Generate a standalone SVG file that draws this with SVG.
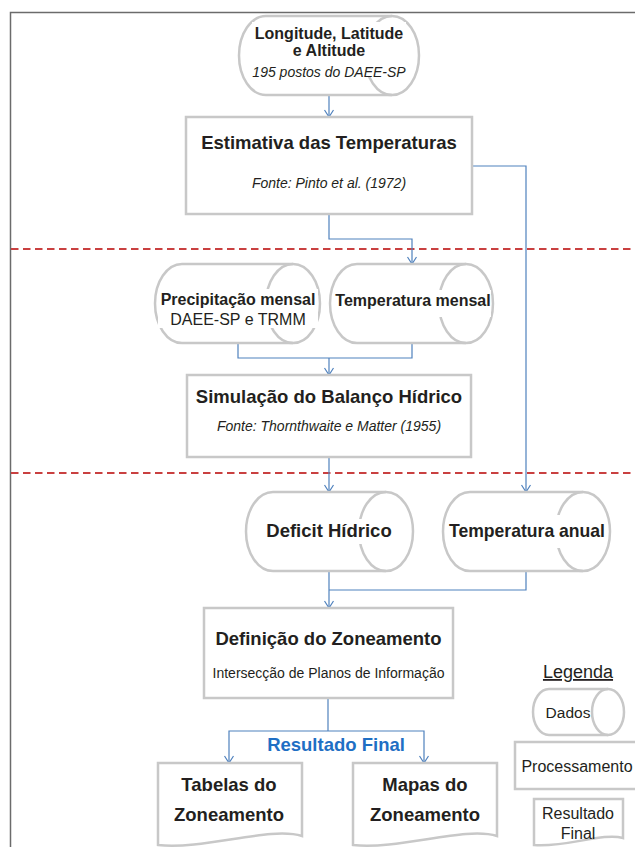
<svg xmlns="http://www.w3.org/2000/svg" width="635" height="847" viewBox="0 0 635 847">
<style>
  text { font-family: "Liberation Sans", Arial, sans-serif; fill: #231f20; text-anchor: middle; }
  .b185 { font-size: 18.5px; font-weight: bold; }
  .b16 { font-size: 16px; font-weight: bold; }
  .r16 { font-size: 16px; }
  .r15 { font-size: 15.5px; }
  .i14 { font-size: 14px; font-style: italic; }
  .r14 { font-size: 14px; }
  .blue { fill: #1f6fc4; }
  .shape { fill: #ffffff; stroke: #c8c8c8; stroke-width: 2.5; }
  .inner { fill: none; stroke: #c8c8c8; stroke-width: 2.5; }
  .tbg { fill: #ffffff; stroke: none; }
  .con { fill: none; stroke: #4f81bd; stroke-width: 1.2; }
  .sep { fill: none; stroke: #c94040; stroke-width: 1.8; stroke-dasharray: 7.5 4.5; }
  .frame { fill: none; stroke: #6b6b6b; stroke-width: 1.5; }
</style>
<defs>
  <marker id="ah" viewBox="-8 -5 9 10" refX="0" refY="0" markerWidth="9" markerHeight="10" markerUnits="userSpaceOnUse" orient="auto">
    <path d="M-7,-4.5 L0,0 L-7,4.5" fill="none" stroke="#4f81bd" stroke-width="1.2"/>
  </marker>
</defs>
<rect x="0" y="0" width="635" height="847" fill="#ffffff"/>
<path class="frame" d="M10.5,847 V12.5 H635"/>
<g id="separators">
  <line class="sep" x1="11" y1="249" x2="635" y2="249"/>
  <line class="sep" x1="11" y1="473" x2="635" y2="473"/>
</g>
<g id="connectors">
  <path class="con" d="M329,95 V117" marker-end="url(#ah)"/>
  <path class="con" d="M472,166 H526 V492" marker-end="url(#ah)"/>
  <path class="con" d="M329,214 V239 H412 V264" marker-end="url(#ah)"/>
  <path class="con" d="M238,343 V358 H412 V343"/>
  <path class="con" d="M329,358 V375" marker-end="url(#ah)"/>
  <path class="con" d="M329,457 V492" marker-end="url(#ah)"/>
  <path class="con" d="M526,571 V590 H329"/>
  <path class="con" d="M329,571 V608" marker-end="url(#ah)"/>
  <path class="con" d="M328,698 V731"/>
  <path class="con" d="M328,731 H229 V763" marker-end="url(#ah)"/>
  <path class="con" d="M328,731 H424 V763" marker-end="url(#ah)"/>
</g>
<g id="n-coordenadas">
  <path class="shape" d="M266,16 H392 A27 39.5 0 0 1 392,95 H266 A27 39.5 0 0 1 266,16 Z"/>
  <path class="inner" d="M392,16 A27 39.5 0 0 0 392,95"/>
  <rect class="tbg" x="252" y="22" width="154" height="54"/>
  <text class="b16" x="329" y="39">Longitude, Latitude</text>
  <text class="b16" x="329" y="56">e Altitude</text>
  <text class="i14" x="329" y="77">195 postos do DAEE-SP</text>
</g>
<g id="n-estimativa">
  <rect class="shape" x="186" y="117" width="286" height="97"/>
  <text class="b185" x="329" y="148.5">Estimativa das Temperaturas</text>
  <text class="i14" x="329" y="188">Fonte: Pinto et al. (1972)</text>
</g>
<g id="n-precipitacao">
  <path class="shape" d="M182,264 H293 A27 39.5 0 0 1 293,343 H182 A27 39.5 0 0 1 182,264 Z"/>
  <path class="inner" d="M293,264 A27 39.5 0 0 0 293,343"/>
  <rect class="tbg" x="158" y="289" width="160" height="39"/>
  <text class="b16" x="238" y="305">Precipitação mensal</text>
  <text class="r16" x="238" y="325">DAEE-SP e TRMM</text>
</g>
<g id="n-temp-mensal">
  <path class="shape" d="M357,264 H466 A27 39.5 0 0 1 466,343 H357 A27 39.5 0 0 1 357,264 Z"/>
  <path class="inner" d="M466,264 A27 39.5 0 0 0 466,343"/>
  <rect class="tbg" x="334" y="290" width="157" height="27"/>
  <text class="b16" x="413" y="306">Temperatura mensal</text>
</g>
<g id="n-simulacao">
  <rect class="shape" x="187" y="375" width="284" height="82"/>
  <text class="b185" x="329" y="402.5">Simulação do Balanço Hídrico</text>
  <text class="i14" x="329" y="431">Fonte: Thornthwaite e Matter (1955)</text>
</g>
<g id="n-deficit">
  <path class="shape" d="M273,492 H386 A27 39.5 0 0 1 386,571 H273 A27 39.5 0 0 1 273,492 Z"/>
  <path class="inner" d="M386,492 A27 39.5 0 0 0 386,571"/>
  <rect class="tbg" x="264" y="519" width="130" height="25"/>
  <text class="b185" x="329" y="536.5">Deficit Hídrico</text>
</g>
<g id="n-temp-anual">
  <path class="shape" d="M470,492 H583 A27 39.5 0 0 1 583,571 H470 A27 39.5 0 0 1 470,492 Z"/>
  <path class="inner" d="M583,492 A27 39.5 0 0 0 583,571"/>
  <rect class="tbg" x="447" y="515" width="159" height="33"/>
  <text class="b185" x="527" y="536.5" textLength="156" lengthAdjust="spacingAndGlyphs">Temperatura anual</text>
</g>
<g id="n-definicao">
  <rect class="shape" x="204" y="608" width="249" height="90"/>
  <text class="b185" x="328.5" y="644.5">Definição do Zoneamento</text>
  <text class="r14" x="328.5" y="678">Intersecção de Planos de Informação</text>
</g>
<g id="l-resultado-final">
  <text class="b185 blue" x="336" y="750.5">Resultado Final</text>
</g>
<g id="n-tabelas">
  <path class="shape" d="M158,763 H302 V836 C270,826 205,850 158,845 Z"/>
  <text class="b185" x="229" y="790.5">Tabelas do</text>
  <text class="b185" x="229" y="820.5">Zoneamento</text>
</g>
<g id="n-mapas">
  <path class="shape" d="M353,763 H497 V836 C465,826 400,850 353,845 Z"/>
  <text class="b185" x="425" y="790.5">Mapas do</text>
  <text class="b185" x="425" y="820.5">Zoneamento</text>
</g>
<g id="legenda">
  <text x="578" y="678" style="font-size:18px;text-decoration:underline">Legenda</text>
  <g id="leg-dados">
    <path class="shape" d="M549,689 H608 A16 23 0 0 1 608,735 H549 A16 23 0 0 1 549,689 Z"/>
    <path class="inner" d="M608,689 A16 23 0 0 0 608,735"/>
    <text class="r15" x="568" y="717.5">Dados</text>
  </g>
  <g id="leg-processamento">
    <rect class="shape" x="515" y="742" width="124" height="47"/>
    <text class="r16" x="577" y="771.5">Processamento</text>
  </g>
  <g id="leg-resultado">
    <path class="shape" d="M534,799 H623 V838 C603,832 565,848 534,845 Z"/>
    <text class="r16" x="578" y="818.5">Resultado</text>
    <text class="r16" x="578" y="838.5">Final</text>
  </g>
</g>
</svg>
